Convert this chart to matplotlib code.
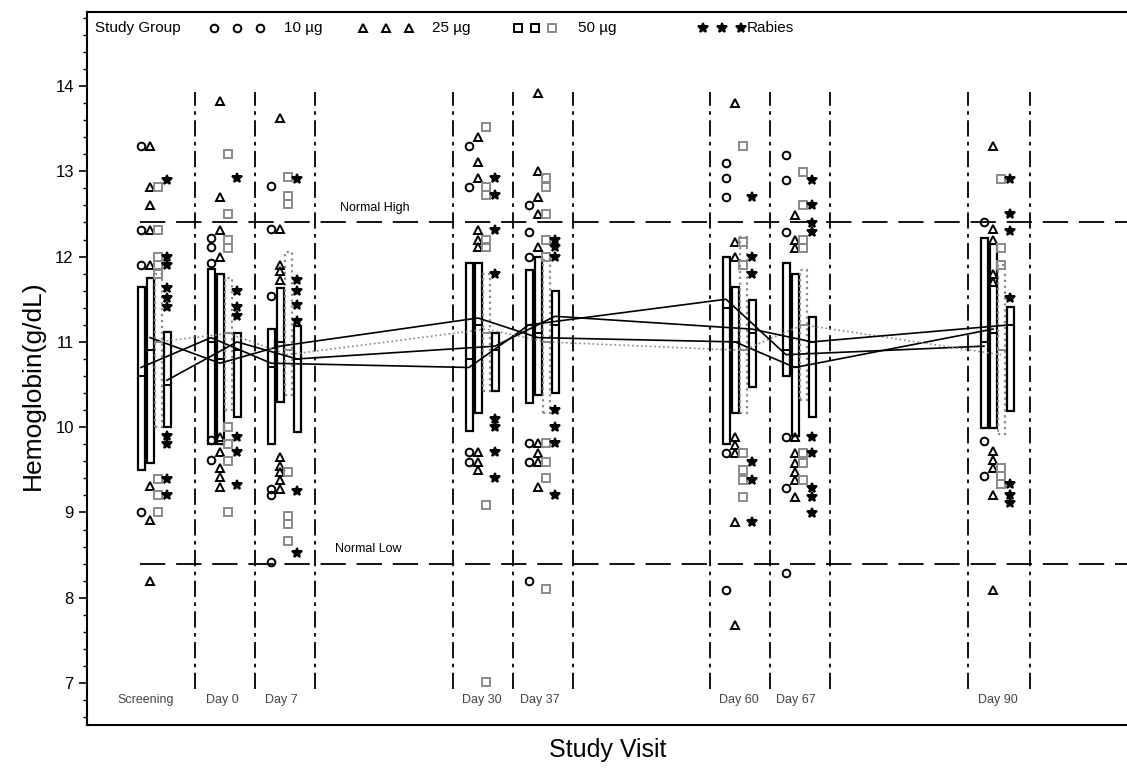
import matplotlib.pyplot as plt
from matplotlib.patches import Rectangle
from matplotlib.ticker import MultipleLocator

plt.rcParams['font.family'] = ['Liberation Sans', 'DejaVu Sans']

visits = ["Screening", "Day 0", "Day 7", "Day 30", "Day 37", "Day 60", "Day 67", "Day 90"]
groups = ["10 µg", "25 µg", "50 µg", "Rabies"]

# box extent (low, high), median and mean per group, one value per visit
box_lo = [
    [9.50, 9.80, 9.80, 9.95, 10.28, 9.80, 10.60, 9.99],
    [9.58, 9.80, 10.30, 10.17, 10.38, 10.17, 9.90, 9.99],
    [10.00, 10.20, 10.38, 10.43, 10.17, 10.17, 10.32, 9.92],
    [10.00, 10.12, 9.94, 10.43, 10.40, 10.47, 10.12, 10.19],
]
box_hi = [
    [11.64, 11.86, 11.15, 11.93, 11.84, 12.00, 11.92, 12.22],
    [11.75, 11.80, 11.63, 11.93, 12.00, 11.64, 11.80, 12.15],
    [11.80, 11.75, 12.05, 11.80, 11.96, 12.23, 11.84, 11.90],
    [11.12, 11.10, 11.19, 11.10, 11.60, 11.49, 11.29, 11.41],
]
box_med = [
    [10.6, 11.0, 10.7, 10.8, 11.2, 11.4, 10.9, 11.0],
    [10.9, 10.8, 11.0, 11.2, 11.1, 11.0, 10.7, 11.1],
    [11.0, 11.1, 10.9, 11.1, 11.0, 10.9, 11.2, 10.9],
    [10.5, 10.9, 10.8, 10.9, 11.2, 11.1, 11.0, 11.2],
]
means = [
    [10.70, 11.05, 10.75, 10.70, 11.20, 11.50, 10.85, 10.95],
    [11.05, 10.75, 10.95, 11.28, 11.05, 11.00, 10.70, 11.15],
    [11.00, 11.10, 10.85, 11.15, 11.00, 10.90, 11.20, 10.85],
    [10.55, 11.00, 10.80, 10.95, 11.30, 11.15, 11.00, 11.20],
]

# individual values shown as symbols, per visit
pts_10 = [
    [13.3, 12.31, 11.9, 9.0],
    [12.22, 12.11, 11.92, 9.85, 9.62],
    [12.83, 12.32, 11.54, 9.28, 9.2, 8.42],
    [13.3, 12.82, 9.71, 9.59],
    [12.6, 12.29, 12.0, 9.81, 9.59, 8.2],
    [13.1, 12.92, 12.7, 9.7, 8.09],
    [13.19, 12.9, 12.29, 9.89, 9.29, 8.29],
    [12.4, 9.84, 9.43],
]
pts_25 = [
    [13.3, 12.82, 12.6, 12.31, 11.9, 9.31, 8.91, 8.2],
    [13.82, 12.7, 12.31, 12.0, 9.89, 9.71, 9.52, 9.42, 9.3],
    [13.62, 12.32, 11.9, 11.83, 11.73, 9.65, 9.55, 9.47, 9.38, 9.28],
    [13.4, 13.11, 12.92, 12.31, 12.2, 12.11, 9.71, 9.59, 9.5],
    [13.92, 13.0, 12.7, 12.5, 12.11, 9.81, 9.7, 9.59, 9.3],
    [13.8, 12.17, 12.0, 9.89, 9.79, 9.7, 8.89, 7.68],
    [12.49, 12.2, 12.1, 9.89, 9.7, 9.58, 9.48, 9.38, 9.18],
    [13.3, 12.32, 12.2, 11.8, 11.7, 9.72, 9.62, 9.52, 9.2, 8.09],
]
pts_50 = [
    [12.82, 12.31, 12.0, 11.9, 11.8, 9.39, 9.2, 9.0],
    [13.2, 12.5, 12.2, 12.1, 10.0, 9.8, 9.6, 9.0],
    [12.93, 12.71, 12.62, 9.47, 8.96, 8.86, 8.66],
    [13.52, 12.82, 12.72, 12.2, 12.11, 9.09, 7.01],
    [12.92, 12.82, 12.5, 12.2, 12.0, 9.81, 9.59, 9.4, 8.1],
    [13.3, 12.17, 11.9, 9.7, 9.5, 9.38, 9.18],
    [12.99, 12.6, 12.2, 12.1, 9.7, 9.58, 9.38],
    [12.91, 12.1, 11.9, 9.52, 9.43, 9.33],
]
pts_rab = [
    [12.9, 12.0, 11.9, 11.63, 11.52, 11.41, 9.9, 9.8, 9.39, 9.2],
    [12.92, 11.6, 11.41, 11.3, 9.89, 9.71, 9.32],
    [12.91, 11.73, 11.6, 11.43, 11.24, 9.25, 8.53],
    [12.92, 12.72, 12.31, 11.8, 10.1, 10.0, 9.71, 9.4],
    [12.2, 12.11, 12.0, 10.2, 10.0, 9.81, 9.2],
    [12.7, 12.0, 11.8, 9.59, 9.38, 8.89],
    [12.9, 12.6, 12.39, 12.29, 9.89, 9.7, 9.29, 9.18, 8.99],
    [12.91, 12.5, 12.3, 11.52, 9.33, 9.2, 9.11],
]
pts = [pts_10, pts_25, pts_50, pts_rab]

normal_high = 12.4
normal_low = 8.4

# layout (x axis in pixel units)
col_left = [125, 195, 255, 453, 513, 710, 770, 968]
grp_off = [16, 25, 33, 42]
sep_x = [195, 255, 315, 453, 513, 573, 710, 770, 830, 968, 1030]
markers = ['o', '^', 's', '*']
msizes = [5.5, 6, 5.5, 7]
colors = ['black', 'black', '#8a8a8a', 'black']

fig = plt.figure(figsize=(11.27, 7.73), dpi=100)
ax = fig.add_axes([87/1127, 48/773, 1040/1127, 713/773])
ax.set_xlim(87, 1127)
ax.set_ylim(6.508, 14.868)

ax.vlines(sep_x, 6.93, 13.93, colors='black', lw=1.3, linestyles=(0, (9, 3, 2, 3)))
ax.hlines([normal_high, normal_low], 140, 1127, colors='black', lw=1.3, linestyles=(0, (14, 6)))
ax.text(340, normal_high + 0.1, "Normal High", fontsize=9, va='bottom')
ax.text(335, normal_low + 0.1, "Normal Low", fontsize=9, va='bottom')

for gi in range(4):
    xs = [col_left[vi] + grp_off[gi] for vi in range(8)]
    ls = ':' if gi == 2 else '-'
    for vi in range(8):
        x = xs[vi]
        ax.add_patch(Rectangle((x - 3.5, box_lo[gi][vi]), 7, box_hi[gi][vi] - box_lo[gi][vi],
                               fill=False, ec=colors[gi], lw=1.6, ls=ls))
        ax.plot([x - 3.5, x + 3.5], [box_med[gi][vi]] * 2, color=colors[gi], lw=1.4)
        ax.plot([x] * len(pts[gi][vi]), pts[gi][vi], ls='none', marker=markers[gi],
                ms=msizes[gi], mfc='none' if gi != 3 else colors[gi],
                mec=colors[gi], mew=1.4)
    ax.plot(xs, means[gi], color=colors[gi], lw=1.2, ls=ls)

# visit labels inside the frame
label_x = [146, 222, 281, 482, 540, 739, 796, 998]
for x, lab in zip(label_x, visits):
    ax.text(x, 6.80, lab, ha='center', va='center', fontsize=9, color='#444444')

# legend row
ly = 14.68
ax.text(95, ly, "Study Group", fontsize=11, va='center')
leg_x = [[214, 237, 260], [363, 386, 409], [518, 535, 552], [703, 722, 741]]
leg_txt_x = [284, 432, 578, 747]
for gi in range(4):
    for k, lx in enumerate(leg_x[gi]):
        c = '#8a8a8a' if (gi == 2 and k == 2) else 'black'
        ax.plot(lx, ly, ls='none', marker=markers[gi], ms=msizes[gi],
                mfc='none' if gi != 3 else c, mec=c, mew=1.4)
    ax.text(leg_txt_x[gi], ly, groups[gi], fontsize=11, va='center')

ax.set_xticks([])
ax.set_yticks(range(7, 15))
ax.yaxis.set_minor_locator(MultipleLocator(0.2))
ax.tick_params(axis='y', which='major', direction='out', length=6, width=1.2, labelsize=12)
ax.tick_params(axis='y', which='minor', direction='out', length=3, width=1)
for s in ax.spines.values():
    s.set_linewidth(1.5)
ax.spines['right'].set_visible(False)

fig.text(33/1127, 1 - 385/773, "Hemoglobin(g/dL)", rotation=90, fontsize=19, ha='center', va='center')
fig.text(608/1127, 1 - 750/773, "Study Visit", fontsize=18, ha='center', va='center')

fig.savefig("out.png", dpi=100)
